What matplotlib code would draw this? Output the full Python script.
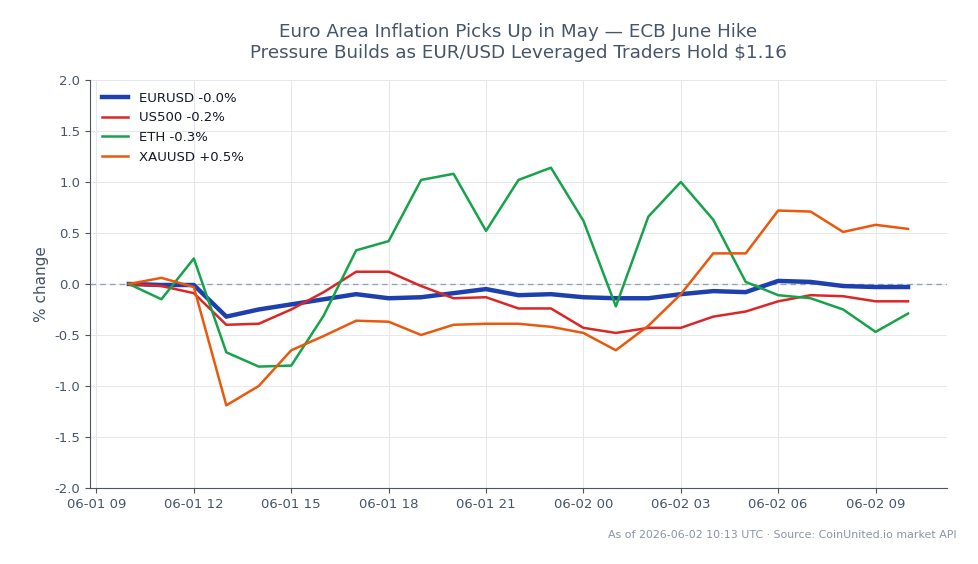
import numpy as np
import pandas as pd
import matplotlib
matplotlib.use("Agg")
import matplotlib.pyplot as plt
import matplotlib.dates as mdates

# hourly snapshots, 06-01 10:00 -> 06-02 10:00 UTC
times = pd.date_range("2026-06-01 10:00", "2026-06-02 10:00", freq="h")

eurusd = [0.00, -0.01, -0.01, -0.32, -0.25, -0.20, -0.15, -0.10, -0.14, -0.13, -0.09, -0.05, -0.11,
          -0.10, -0.13, -0.14, -0.14, -0.10, -0.07, -0.08, 0.03, 0.02, -0.02, -0.03, -0.03]
us500 = [0.00, -0.02, -0.09, -0.40, -0.39, -0.25, -0.08, 0.12, 0.12, -0.02, -0.14, -0.13, -0.24,
         -0.24, -0.43, -0.48, -0.43, -0.43, -0.32, -0.27, -0.17, -0.11, -0.12, -0.17, -0.17]
eth = [0.00, -0.15, 0.25, -0.67, -0.81, -0.80, -0.31, 0.33, 0.42, 1.02, 1.08, 0.52, 1.02,
       1.14, 0.62, -0.22, 0.66, 1.00, 0.63, 0.02, -0.11, -0.14, -0.25, -0.47, -0.29]
xauusd = [0.00, 0.06, -0.03, -1.19, -1.00, -0.65, -0.51, -0.36, -0.37, -0.50, -0.40, -0.39, -0.39,
          -0.42, -0.48, -0.65, -0.41, -0.10, 0.30, 0.30, 0.72, 0.71, 0.51, 0.58, 0.54]

series = [("EURUSD", eurusd, "#1e40af", 3.2),
          ("US500", us500, "#dc2626", 1.8),
          ("ETH", eth, "#16a34a", 1.8),
          ("XAUUSD", xauusd, "#ea580c", 1.8)]

text_col = "#475569"
spine_col = "#4b5563"

fig = plt.figure(figsize=(9.79, 5.64), dpi=100)
ax = fig.add_axes([0.0919, 0.1348, 0.8754, 0.7234])

for name, vals, col, lw in series:
    ax.plot(times, vals, color=col, lw=lw, label=f"{name} {vals[-1]:+.1f}%".replace("+-", "-"), zorder=3)

ax.axhline(0, color="#94a3b8", lw=1, ls=(0, (4, 3)), zorder=2)

ax.set_ylim(-2, 2)
ax.set_yticks(np.arange(-2, 2.01, 0.5))
ax.yaxis.set_major_formatter(matplotlib.ticker.FormatStrFormatter("%.1f"))
ax.xaxis.set_major_locator(mdates.HourLocator(byhour=range(0, 24, 3)))
ax.xaxis.set_major_formatter(mdates.DateFormatter("%m-%d %H"))

ax.grid(True, color="#e5e7eb", lw=0.7, zorder=0)
for s in ["top", "right"]:
    ax.spines[s].set_visible(False)
for s in ["left", "bottom"]:
    ax.spines[s].set_color(spine_col)
ax.tick_params(colors=spine_col, labelcolor=text_col, labelsize=9.5)

ax.set_ylabel("% change", color=text_col, fontsize=11)
ax.set_title("Euro Area Inflation Picks Up in May — ECB June Hike\nPressure Builds as EUR/USD Leveraged Traders Hold $1.16",
             color=text_col, fontsize=13.2, pad=16)

leg = ax.legend(loc="upper left", frameon=False, fontsize=9.5, labelcolor="#111827")

fig.text(0.977, 0.051, "As of 2026-06-02 10:13 UTC · Source: CoinUnited.io market API",
         ha="right", va="center", fontsize=7.9, color="#8a94a6")

fig.savefig("out.png", dpi=100)
